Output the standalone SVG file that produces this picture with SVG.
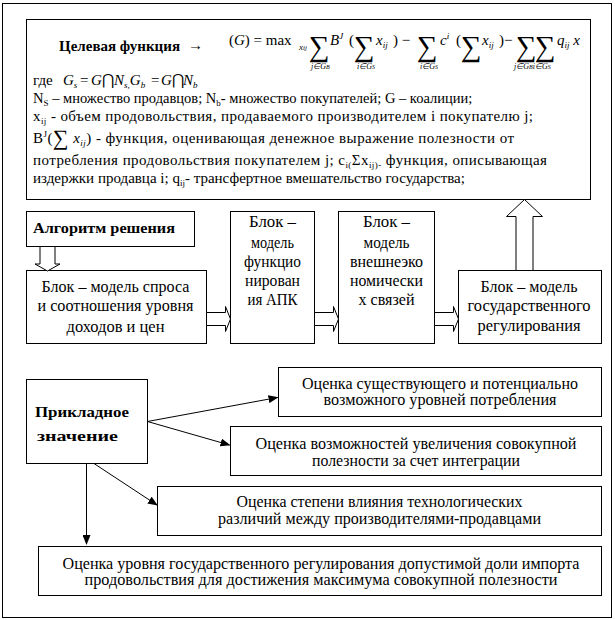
<svg xmlns="http://www.w3.org/2000/svg" width="615" height="620" viewBox="0 0 615 620" font-family="Liberation Serif, serif">
<style>
text{font-family:"Liberation Serif","Times New Roman",serif;fill:#000}
.box{fill:#fff;stroke:#000;stroke-width:1}
.t{font-size:16px}
.s{font-size:15px}
.b{font-size:15px;font-weight:bold}
.i{font-style:italic}
.sm{font-size:9px}
.sig{font-size:29px}
.ln{stroke:#000;stroke-width:1;fill:none}
.ha{fill:#fff;stroke:#000;stroke-width:1}
</style>
<defs>
<marker id="ah" markerWidth="10" markerHeight="8" refX="9" refY="4" orient="auto" markerUnits="userSpaceOnUse"><path d="M0,0 L10,4 L0,8 z" fill="#000"/></marker>
</defs>
<rect x="2.5" y="3.5" width="609" height="614" fill="#fff" stroke="#000"/>

<g id="goal">
<rect class="box" x="26.5" y="19.5" width="564" height="180"/>
<text class="b" x="59" y="51" textLength="121" lengthAdjust="spacingAndGlyphs">Целевая функция</text>
<text class="s" x="188" y="50" font-size="17">→</text>
<g class="s">
<text x="229" y="45">(<tspan class="i">G</tspan>) = max</text>
<text class="i sm" x="299" y="50">x<tspan font-size="7">ij</tspan></text>
<text class="sig" x="309" y="56">∑</text>
<text class="i" font-size="8" x="311" y="69">j∈G<tspan font-size="6">B</tspan></text>
<text class="i" x="330" y="45">B<tspan class="sm" dy="-6">J</tspan></text>
<text x="349" y="45">(</text>
<text class="sig" x="354" y="56">∑</text>
<text class="i" font-size="8" x="357" y="69">i∈G<tspan font-size="6">S</tspan></text>
<text class="i" x="376" y="45">x<tspan class="sm" dy="3">ij</tspan></text>
<text x="393" y="45">) −</text>
<text class="sig" x="417" y="56">∑</text>
<text class="i" font-size="8" x="420" y="69">i∈G<tspan font-size="6">S</tspan></text>
<text class="i" x="440" y="45">c<tspan class="sm" dy="-6">i</tspan></text>
<text x="456" y="45">(</text>
<text class="sig" x="461" y="56">∑</text>
<text class="i" x="482" y="45">x<tspan class="sm" dy="3">ij</tspan></text>
<text x="499" y="45">)−</text>
<text class="sig" x="516" y="56">∑</text>
<text class="sig" x="535" y="56">∑</text>
<text class="i" font-size="8" x="514" y="69">j∈G<tspan font-size="6">B</tspan>i∈G<tspan font-size="6">S</tspan></text>
<text class="i" x="557" y="45">q<tspan class="sm" dy="3">ij</tspan><tspan dy="-3"> x</tspan></text>

<text x="33" y="85">где</text>
<text class="i" x="63" y="85">G<tspan class="sm" dy="3">s</tspan></text>
<text x="80" y="85">=</text>
<text class="i" x="91" y="85">G</text>
<text x="102" y="85">⋂</text>
<text class="i" x="114" y="85">N<tspan class="sm" dy="3">s,</tspan><tspan dy="-3">G</tspan><tspan class="sm" dy="3">b</tspan></text>
<text x="151" y="85">=</text>
<text class="i" x="161" y="85">G</text>
<text x="172" y="85">⋂</text>
<text class="i" x="183" y="85">N<tspan class="sm" dy="3">b</tspan></text>

<text x="33" y="103" font-size="14.5">N<tspan class="sm" dy="3">S</tspan><tspan dy="-3"> – множество продавцов;  N</tspan><tspan class="sm" dy="3">b</tspan><tspan dy="-3">- множество покупателей; G – коалиции;</tspan></text>
<text x="33" y="121" textLength="500" lengthAdjust="spacing">x<tspan class="sm" dy="3">ij</tspan><tspan dy="-3"> - объем продовольствия, продаваемого производителем i покупателю j;</tspan></text>
<text x="33" y="143" textLength="481" lengthAdjust="spacing">B<tspan class="sm" dy="-6">J</tspan><tspan dy="6">(</tspan><tspan font-size="22" dy="2">∑</tspan><tspan class="i" dy="-2"> x</tspan><tspan class="sm i" dy="3">ij</tspan><tspan dy="-3">) - функция, оценивающая денежное выражение полезности от</tspan></text>
<text x="33" y="165" textLength="514" lengthAdjust="spacing">потребления продовольствия покупателем j; c<tspan class="sm" dy="3">i(</tspan><tspan dy="-3">Σx</tspan><tspan class="sm" dy="3">ij)-</tspan><tspan dy="-3"> функция, описывающая</tspan></text>
<text x="33" y="183">издержки продавца i; q<tspan class="sm" dy="3">ij</tspan><tspan dy="-3">- трансфертное вмешательство государства;</tspan></text>
</g>
</g>

<g id="algo">
<rect class="box" x="26.5" y="211.5" width="168" height="35"/>
<text class="b" x="33" y="233" textLength="142" lengthAdjust="spacingAndGlyphs">Алгоритм решения</text>
</g>

<g id="block1">
<rect class="box" x="26.5" y="270.5" width="180" height="73"/>
<text class="t" x="115.5" y="292" text-anchor="middle" textLength="148" lengthAdjust="spacingAndGlyphs">Блок – модель спроса</text>
<text class="t" x="115.5" y="311" text-anchor="middle" textLength="156" lengthAdjust="spacingAndGlyphs">и соотношения уровня</text>
<text class="t" x="115.5" y="332" text-anchor="middle" textLength="98" lengthAdjust="spacingAndGlyphs">доходов и цен</text>
</g>
<g id="block2">
<rect class="box" x="230.5" y="211.5" width="84" height="132"/>
<text class="t" x="272.5" y="227" text-anchor="middle" textLength="47" lengthAdjust="spacingAndGlyphs">Блок –</text>
<text class="t" x="272.5" y="248" text-anchor="middle" textLength="43" lengthAdjust="spacingAndGlyphs">модель</text>
<text class="t" x="272.5" y="267" text-anchor="middle" textLength="57" lengthAdjust="spacingAndGlyphs">функцио</text>
<text class="t" x="272.5" y="286" text-anchor="middle" textLength="55" lengthAdjust="spacingAndGlyphs">нирован</text>
<text class="t" x="272.5" y="305" text-anchor="middle" textLength="50" lengthAdjust="spacingAndGlyphs">ия АПК</text>
</g>
<g id="block3">
<rect class="box" x="338.5" y="211.5" width="96" height="132"/>
<text class="t" x="386.5" y="227" text-anchor="middle" textLength="47" lengthAdjust="spacingAndGlyphs">Блок –</text>
<text class="t" x="386.5" y="248" text-anchor="middle" textLength="46" lengthAdjust="spacingAndGlyphs">модель</text>
<text class="t" x="386.5" y="267" text-anchor="middle" textLength="73" lengthAdjust="spacingAndGlyphs">внешнеэко</text>
<text class="t" x="386.5" y="286" text-anchor="middle" textLength="73" lengthAdjust="spacingAndGlyphs">номически</text>
<text class="t" x="386.5" y="305" text-anchor="middle" textLength="56" lengthAdjust="spacingAndGlyphs">х связей</text>
</g>
<g id="block4">
<rect class="box" x="458.5" y="270.5" width="143" height="73"/>
<text class="t" x="529" y="292" text-anchor="middle" textLength="97" lengthAdjust="spacingAndGlyphs">Блок – модель</text>
<text class="t" x="529" y="311" text-anchor="middle" textLength="123" lengthAdjust="spacingAndGlyphs">государственного</text>
<text class="t" x="529" y="331" text-anchor="middle" textLength="103" lengthAdjust="spacingAndGlyphs">регулирования</text>
</g>

<g id="applied">
<rect class="box" x="26.5" y="379.5" width="121" height="84"/>
<text class="b" x="35" y="417" textLength="94" lengthAdjust="spacingAndGlyphs">Прикладное</text>
<text class="b" x="37" y="441" textLength="81" lengthAdjust="spacingAndGlyphs">значение</text>
</g>
<g id="evalA">
<rect class="box" x="278.5" y="367.5" width="323" height="49"/>
<text class="t" x="440" y="388.5" text-anchor="middle" textLength="276" lengthAdjust="spacingAndGlyphs">Оценка существующего и потенциально</text>
<text class="t" x="440" y="405" text-anchor="middle" textLength="233" lengthAdjust="spacingAndGlyphs">возможного уровней потребления</text>
</g>
<g id="evalB">
<rect class="box" x="230.5" y="426.5" width="371" height="49"/>
<text class="t" x="416" y="448.5" text-anchor="middle" textLength="321" lengthAdjust="spacingAndGlyphs">Оценка возможностей увеличения совокупной</text>
<text class="t" x="416" y="466" text-anchor="middle" textLength="208" lengthAdjust="spacingAndGlyphs">полезности за счет интеграции</text>
</g>
<g id="evalC">
<rect class="box" x="157.5" y="486.5" width="444" height="49"/>
<text class="t" x="379.5" y="507" text-anchor="middle" textLength="286" lengthAdjust="spacingAndGlyphs">Оценка степени влияния технологических</text>
<text class="t" x="379.5" y="524" text-anchor="middle" textLength="323" lengthAdjust="spacingAndGlyphs">различий между производителями-продавцами</text>
</g>
<g id="evalD">
<rect class="box" x="38.5" y="546.5" width="563" height="49"/>
<text class="t" x="321" y="568.5" text-anchor="middle" textLength="517" lengthAdjust="spacingAndGlyphs">Оценка уровня государственного регулирования допустимой доли импорта</text>
<text class="t" x="321" y="585" text-anchor="middle" textLength="473" lengthAdjust="spacingAndGlyphs">продовольствия для достижения  максимума совокупной полезности</text>
</g>

<g id="connectors">
<polygon class="ha" points="40,246.5 40,264 35,264 47.5,271 60,264 55,264 55,246.5"/>
<polygon class="ha" points="206.5,312.5 225.5,312.5 225.5,306.5 230.5,319 225.5,331.5 225.5,325.5 206.5,325.5"/>
<polygon class="ha" points="314.5,312.5 333.5,312.5 333.5,306.5 338.5,319 333.5,331.5 333.5,325.5 314.5,325.5"/>
<polygon class="ha" points="434.5,312.5 453.5,312.5 453.5,306.5 458.5,319 453.5,331.5 453.5,325.5 434.5,325.5"/>
<polygon class="ha" points="516,270.5 516,216.5 506.5,216.5 524.5,199.5 542.5,216.5 533,216.5 533,270.5"/>
<line class="ln" x1="147.5" y1="421.5" x2="277.5" y2="397.5" marker-end="url(#ah)"/>
<line class="ln" x1="147.5" y1="421.5" x2="229.5" y2="445" marker-end="url(#ah)"/>
<line class="ln" x1="94" y1="463.5" x2="157" y2="505" marker-end="url(#ah)"/>
<line class="ln" x1="86.5" y1="463.5" x2="86.5" y2="544" marker-end="url(#ah)"/>
</g>
</svg>
